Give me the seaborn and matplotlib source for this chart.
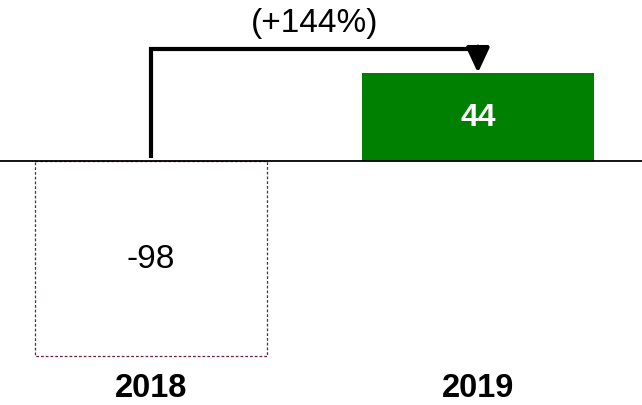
import matplotlib
matplotlib.use("Agg")
import matplotlib.pyplot as plt
import seaborn as sns
import pandas as pd

years = ["2018", "2019"]
values = [-98, 44]
change_label = "(+144%)"
value_labels = ["-98", "44"]

sns.set_theme(style="white")
plt.rcParams['font.family'] = ['Liberation Sans', 'DejaVu Sans']

df = pd.DataFrame({"year": years, "value": values})

fig = plt.figure(figsize=(6.42, 4.06), dpi=100)
ax = fig.add_axes([0, 0, 1, 1])

sns.barplot(data=df, x="year", y="value", hue="year",
            palette=["white", "#008000"], width=0.71, legend=False, ax=ax,
            saturation=1)

# style 2018 bar as dotted outline
p0, p1 = ax.patches[0], ax.patches[1]
p0.set_facecolor("none")
p0.set_edgecolor("#6b2040")
p0.set_linestyle((0, (2.2, 1.6)))
p0.set_linewidth(0.9)
p1.set_edgecolor("none")

ax.set_xlim(-0.462, 1.502)
ax.set_ylim(-122.5, 81)
ax.axhline(0, color="black", lw=1.3, zorder=3)

for spine in ax.spines.values():
    spine.set_visible(False)
ax.set_xticks([])
ax.set_yticks([])
ax.set_xlabel("")
ax.set_ylabel("")

# value labels
ax.text(0, values[0] / 2, value_labels[0], ha="center", va="center",
        fontsize=24, color="black")
ax.text(1, values[1] / 2, value_labels[1], ha="center", va="center",
        fontsize=23, color="white", fontweight="bold")

# year labels
for i, y in enumerate(years):
    ax.text(i, -113.5, y, ha="center", va="center", fontsize=23.5,
            fontweight="bold", color="black")

# connector arrow
top = max(values) + 12
ax.plot([0, 0, 1], [1.5, top, top], color="black", lw=3,
        solid_joinstyle="miter", solid_capstyle="butt", zorder=4)
ax.annotate("", xy=(1, values[1]), xytext=(1, top + 1.1),
            arrowprops=dict(arrowstyle="-|>,head_length=0.75,head_width=0.35",
                            mutation_scale=20, color="black", lw=3,
                            shrinkA=0, shrinkB=0), zorder=4)
ax.text(0.5, 69, change_label, ha="center", va="center", fontsize=24,
        color="black")

fig.savefig("out.png", dpi=100)
